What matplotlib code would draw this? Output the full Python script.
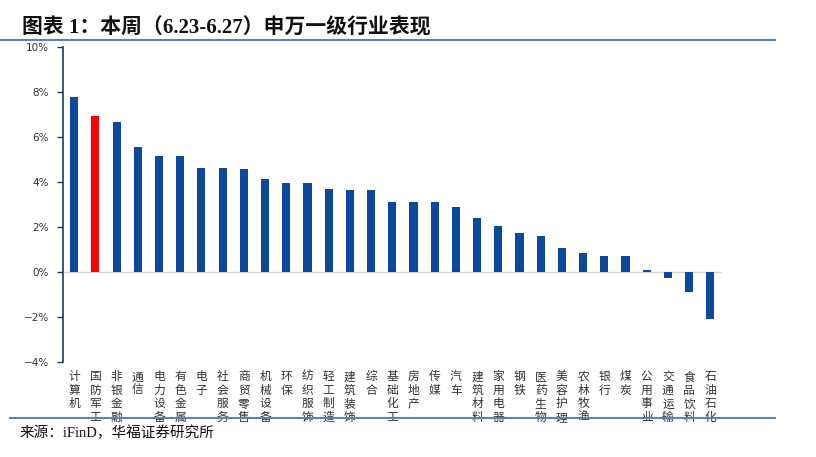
import matplotlib
matplotlib.use('Agg')
import matplotlib.pyplot as plt
from matplotlib.lines import Line2D
from matplotlib.ticker import FuncFormatter

plt.rcParams['font.family'] = ['Noto Sans CJK SC', 'DejaVu Sans']

industries = ['计算机', '国防军工', '非银金融', '通信', '电力设备', '有色金属', '电子',
              '社会服务', '商贸零售', '机械设备', '环保', '纺织服饰', '轻工制造', '建筑装饰',
              '综合', '基础化工', '房地产', '传媒', '汽车', '建筑材料', '家用电器', '钢铁',
              '医药生物', '美容护理', '农林牧渔', '银行', '煤炭', '公用事业', '交通运输',
              '食品饮料', '石油石化']
changes = [7.76, 6.95, 6.68, 5.57, 5.16, 5.16, 4.64, 4.64, 4.58, 4.13, 3.97, 3.94, 3.67, 3.64,
           3.64, 3.12, 3.10, 3.10, 2.90, 2.41, 2.05, 1.75, 1.62, 1.06, 0.84, 0.70, 0.70, 0.09,
           -0.26, -0.90, -2.10]
highlight = '国防军工'
yticks = [-4, -2, 0, 2, 4, 6, 8, 10]

W, H = 816, 457
fig = plt.figure(figsize=(W / 100, H / 100), dpi=100)
ax = fig.add_axes([63 / W, 1 - 362 / H, (722 - 63) / W, (362 - 47) / H])

colors = ['#FF0000' if n == highlight else '#0B4A9B' for n in industries]
x = list(range(len(industries)))
ax.bar(x, changes, width=0.38, color=colors, zorder=3)
ax.axhline(0, color='#D4D4D4', lw=1.0, zorder=2)

ax.set_xlim(-0.53, len(industries) - 0.45)
ax.set_ylim(-4, 10)
ax.set_yticks(yticks)
ax.yaxis.set_major_formatter(FuncFormatter(lambda v, p: f'{v:.0f}%'.replace('-', '\u2212')))
for s in ['top', 'right', 'bottom']:
    ax.spines[s].set_visible(False)
ax.spines['left'].set_color('#1A3A5E')
ax.spines['left'].set_linewidth(1.2)
ax.tick_params(axis='y', direction='out', length=4, width=1.0, color='#1A3A5E',
               labelsize=7.5, labelcolor='#333333', pad=6)
for t in ax.get_yticklabels():
    t.set_family(['DejaVu Sans'])

ax.set_xticks(x)
ax.set_xticklabels(['\n'.join(n) for n in industries], fontsize=8.5, color='#333333',
                   va='top', linespacing=1.05)
ax.tick_params(axis='x', length=0, pad=6)

# title and frame lines
fig.text(22 / W, 1 - 28 / H, '图表 1：本周（6.23-6.27）申万一级行业表现',
         fontsize=15, fontweight='bold', color='#111111', va='center', ha='left',
         family=['Liberation Serif', 'Noto Sans CJK SC'])
fig.add_artist(Line2D([0, 775 / W], [1 - 40 / H, 1 - 40 / H], color='#5B80BE', lw=1.5))
fig.add_artist(Line2D([10 / W, 775 / W], [1 - 418 / H, 1 - 418 / H], color='#5B80BE', lw=1.5))
fig.text(20 / W, 1 - 433 / H, '来源：iFinD，华福证券研究所', fontsize=10.5, color='#111111',
         va='center', ha='left', family=['Liberation Serif', 'Noto Sans CJK SC'])

fig.savefig('out.png', dpi=100)
